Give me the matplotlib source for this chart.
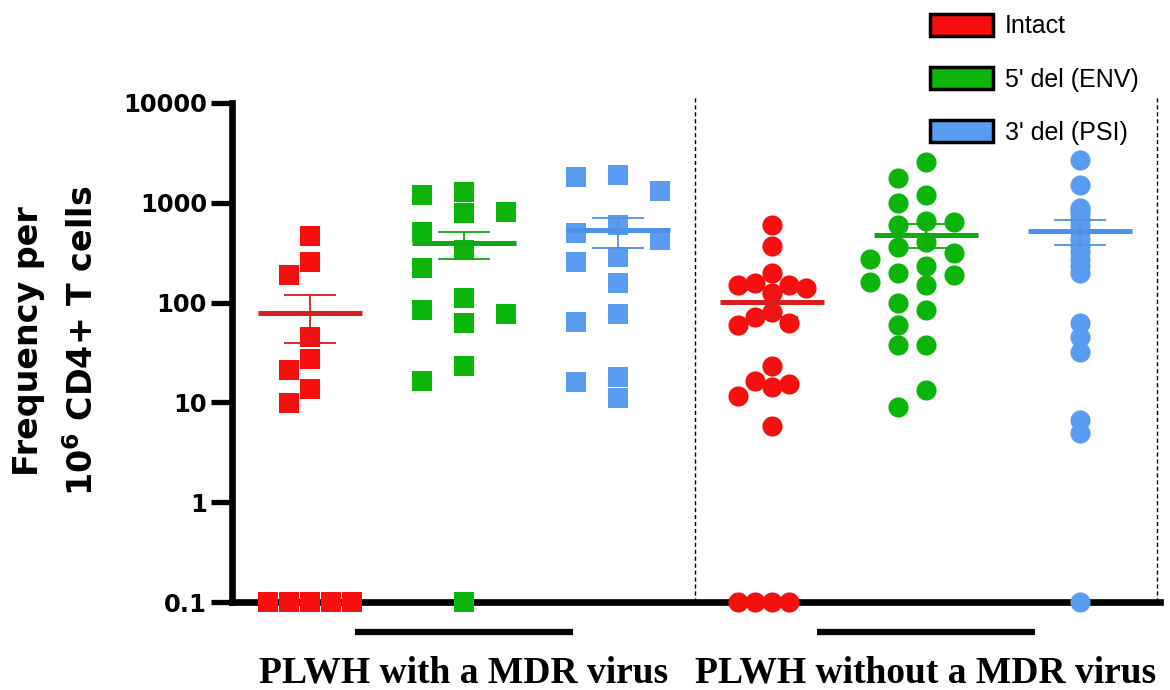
"""
Частота интактных и дефектных провирусов у PLWH с MDR-вирусом и без него.
Точечная диаграмма в логарифмической шкале, линия среднего и SEM.
"""

import numpy as np
import matplotlib.pyplot as plt
from matplotlib.patches import Patch
from matplotlib.ticker import FixedLocator, FixedFormatter, NullLocator

# -------------------------------
#   ДАННЫЕ (0 = ниже порога, рисуется на оси 0.1)
# -------------------------------
groups = ["PLWH with a MDR virus", "PLWH without a MDR virus"]
series = ["Intact", "5' del (ENV)", "3' del (PSI)"]

intact_mdr = [465, 255, 189, 45, 27, 21, 13.6, 9.9, 0, 0, 0, 0, 0]
env_mdr = [1283, 1197, 809, 790, 509, 336, 222, 111, 84, 77, 62.5, 23, 16.4, 0]
psi_mdr = [1900, 1815, 1313, 600, 498, 424, 286, 255, 157, 77, 64, 18, 16, 11]

intact_non = [600, 369, 198, 157, 150, 150, 140, 125, 80, 72, 62.5, 60,
              23, 16.4, 15.3, 14.3, 11.6, 5.8, 0, 0, 0, 0]
env_non = [2563, 1773, 1197, 995, 657, 643, 600, 405, 361, 314, 274, 233,
           198, 189, 161, 150, 99, 84, 60, 38, 38, 13.3, 9]
psi_non = [2687, 1508, 887, 847, 773, 673, 586, 510, 434, 369, 321, 274,
           233, 198, 62.5, 45, 32, 6.7, 4.9, 0]

yticks = [0.1, 1, 10, 100, 1000, 10000]
ytick_labels = ["0.1", "1", "10", "100", "1000", "10000"]

# -------------------------------
#   СТИЛЬ
# -------------------------------
colors = ["#f50f0f", "#0cb40c", "#5b9cf0"]
mean_colors = ["#d81e1e", "#14a814", "#4f91e8"]

columns = [intact_mdr, env_mdr, psi_mdr, intact_non, env_non, psi_non]
markers = ["s", "s", "s", "o", "o", "o"]
lane_px = [21, 42, 42, 17, 28, 0]   # шаг раздвижки точек, px
gap_px = [21, 21, 21, 19, 19, 0]    # минимальное расстояние по вертикали

plt.rcParams["mathtext.default"] = "bf"
plt.rcParams["mathtext.fontset"] = "dejavusans"

fig = plt.figure(figsize=(11.7, 6.9), dpi=100)
ax = fig.add_axes([232 / 1170, 88 / 690, 928 / 1170, 499 / 690])
ax.set_yscale("log")
ax.set_ylim(0.1, 10000)
ax.set_xlim(-0.506, 5.519)

positions = np.arange(len(columns))


def swarm(vals, lane, gap):
    """Жадная раскладка точек по дорожкам (в пикселях)."""
    vals = np.asarray(vals, dtype=float)
    pts = np.column_stack([np.zeros(len(vals)), np.maximum(vals, 0.1)])
    ys = ax.transData.transform(pts)[:, 1]
    offs = np.zeros(len(vals))
    if lane == 0:
        return offs
    placed = []
    for i in np.argsort(-vals, kind="stable"):
        for c in [0, -1, 1, -2, 2, -3, 3, -4, 4]:
            if all(not (pl == c and abs(py - ys[i]) < gap) for pl, py in placed):
                break
        placed.append((c, ys[i]))
        offs[i] = c * lane
    return offs


ppu = ax.transData.transform((1, 1))[0] - ax.transData.transform((0, 1))[0]

for i, vals in enumerate(columns):
    vals = np.asarray(vals, dtype=float)
    col = i % 3
    x = positions[i] + swarm(vals, lane_px[i], gap_px[i]) / ppu
    ax.scatter(x, np.maximum(vals, 0.1), marker=markers[i], s=14.5 ** 2,
               color=colors[col], linewidths=0, zorder=5, clip_on=False)

    m = vals.mean()
    sem = vals.std(ddof=1) / np.sqrt(len(vals))
    p = positions[i]
    ax.hlines(m, p - 0.34, p + 0.34, color=mean_colors[col], lw=3.6, zorder=6)
    ax.hlines([m - sem, m + sem], p - 0.17, p + 0.17, color=mean_colors[col],
              lw=1.3, zorder=6)
    ax.vlines(p, m - sem, m + sem, color=mean_colors[col], lw=1.3, zorder=6)

# -------------------------------
#   ОСИ
# -------------------------------
for s in ["top", "right"]:
    ax.spines[s].set_visible(False)
for s in ["left", "bottom"]:
    ax.spines[s].set_linewidth(4.8)
    ax.spines[s].set_capstyle("projecting")

ax.yaxis.set_major_locator(FixedLocator(yticks))
ax.yaxis.set_major_formatter(FixedFormatter(ytick_labels))
ax.yaxis.set_minor_locator(NullLocator())
ax.tick_params(axis="y", length=15, width=3.8, direction="out", pad=3,
               labelsize=17.5)
for lab in ax.get_yticklabels():
    lab.set_fontweight("bold")
    lab.set_fontfamily("DejaVu Sans")
ax.set_xticks([])

# разделители групп
ax.axvline(2.5, ymax=1.012, color="k", lw=1, ls=(0, (3, 2)), clip_on=False)
ax.axvline(5.5, ymax=1.016, color="k", lw=1, ls=(0, (3, 2)), clip_on=False)

# подписи групп и черные полосы под осью
xt = ax.get_xaxis_transform()
for g, center in zip(groups, [1, 4]):
    ax.plot([center - 0.71, center + 0.71], [-0.06, -0.06], transform=xt,
            color="k", lw=4.5, solid_capstyle="butt", clip_on=False)
    ax.text(center, -0.162, g, transform=xt, ha="center", va="baseline",
            fontfamily="Liberation Serif", fontweight="bold", fontsize=27)

fig.text(56 / 1170, 1 - 341 / 690, "Frequency per\n10$^{6}$ CD4+ T cells",
         rotation=90, ha="center", va="center", ma="center",
         fontsize=24, fontweight="bold", fontfamily="DejaVu Sans",
         linespacing=1.75)

handles = [Patch(facecolor=c, edgecolor="black", linewidth=2.5) for c in colors]
fig.legend(handles, series, loc="upper left",
           bbox_to_anchor=(930 / 1170, 1 - 14 / 690), frameon=False,
           prop={"family": "Liberation Sans", "size": 18},
           handlelength=2.5, handleheight=0.95, handletextpad=0.5,
           labelspacing=1.15, borderpad=0, borderaxespad=0)

fig.savefig("out.png", dpi=100)
print("saved out.png")
